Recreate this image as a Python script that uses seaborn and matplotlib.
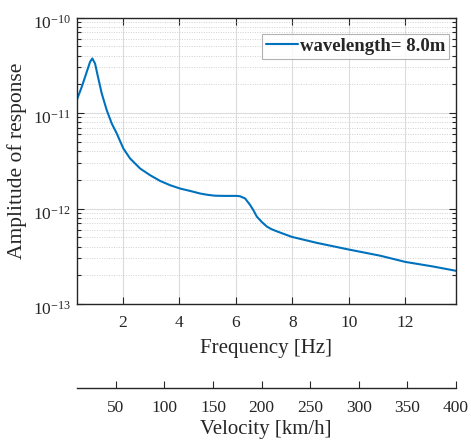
import numpy as np
import pandas as pd
import seaborn as sns
import matplotlib
matplotlib.use("Agg")
import matplotlib.pyplot as plt
import matplotlib.transforms as mtransforms
from matplotlib.ticker import LogLocator, NullFormatter, FixedLocator

# Data (frequency in Hz, log10 of amplitude)
freq = [0.358, 0.535, 0.713, 0.830, 0.911, 1.007, 1.124, 1.245, 1.422, 1.599,
        1.777, 2.011, 2.248, 2.603, 2.957, 3.312, 3.667, 4.021, 4.376, 4.730,
        5.0, 5.262, 5.60, 6.03, 6.149, 6.326, 6.50, 6.62, 6.74, 6.92, 7.10,
        7.25, 7.457, 7.98, 8.87, 9.99, 11.11, 12.0, 13.0, 13.81]
log_amp = [-10.866, -10.727, -10.570, -10.465, -10.429, -10.482, -10.639,
           -10.796, -10.971, -11.110, -11.215, -11.372, -11.476, -11.581,
           -11.651, -11.711, -11.756, -11.791, -11.816, -11.843, -11.857,
           -11.866, -11.868, -11.868, -11.872, -11.895, -11.962, -12.018,
           -12.085, -12.142, -12.190, -12.215, -12.240, -12.297, -12.360,
           -12.429, -12.494, -12.559, -12.608, -12.653]
amp = [10.0 ** v for v in log_amp]
legend_label = "wavelength= 8.0m"
freq_ticks = [2, 4, 6, 8, 10, 12]
amp_ticks = [1e-13, 1e-12, 1e-11, 1e-10]
vel_ticks = [50, 100, 150, 200, 250, 300, 350, 400]

df = pd.DataFrame({"Frequency": freq, "Amplitude": amp, "series": legend_label})

sns.set_style("ticks")
plt.rcParams["font.family"] = ["Liberation Serif", "DejaVu Serif"]
plt.rcParams["mathtext.fontset"] = "custom"
plt.rcParams["mathtext.rm"] = "Liberation Serif"
plt.rcParams["mathtext.it"] = "Liberation Serif:italic"
plt.rcParams["mathtext.bf"] = "Liberation Serif:bold"

fig = plt.figure(figsize=(4.71, 4.44), dpi=100)
L, R = 76.5 / 471, 456 / 471
B, T = 1 - 304 / 444, 1 - 17.5 / 444
ax = fig.add_axes([L, B, R - L, T - B])

sns.lineplot(data=df, x="Frequency", y="Amplitude", hue="series",
             palette=["#0072BD"], linewidth=1.5, ax=ax, legend=True)
ax.set_yscale("log")
ax.set_xlim(0.35, 13.8)
ax.set_ylim(1e-13, 1e-10)

ax.xaxis.set_major_locator(FixedLocator(freq_ticks))
ax.yaxis.set_major_locator(FixedLocator(amp_ticks))
ax.yaxis.set_minor_locator(LogLocator(base=10, subs=np.arange(2, 10), numticks=20))
ax.yaxis.set_minor_formatter(NullFormatter())

ax.grid(True, which="major", color="#dcdcdc", linewidth=0.8, linestyle="-")
ax.grid(True, which="minor", axis="y", color="#d0d0d0", linewidth=0.7, linestyle=(0, (1, 1.5)))
ax.set_axisbelow(True)

ax.tick_params(which="both", direction="in", top=True, right=True, colors="#262626",
               labelsize=12.5, labelcolor="#262626")
ax.tick_params(which="major", length=5, width=0.8)
ax.tick_params(which="minor", length=3, width=0.8)
ax.tick_params(axis="x", pad=8)
ax.tick_params(axis="y", pad=4)
for s in ax.spines.values():
    s.set_color("#262626")
    s.set_linewidth(1.0)

# shift y tick labels slightly down, like the reference
offset = mtransforms.ScaledTranslation(0, -4 / 100, fig.dpi_scale_trans)
for lab in ax.get_yticklabels():
    lab.set_transform(lab.get_transform() + offset)

ax.set_xlabel("Frequency [Hz]", fontsize=15, color="#262626", labelpad=6)
ax.set_ylabel("Amplitude of response", fontsize=15.5, color="#262626", labelpad=4)

leg = ax.legend(loc="upper right", bbox_to_anchor=(449 / 471, 1 - 34 / 444),
                bbox_transform=fig.transFigure, borderaxespad=0,
                frameon=True, fancybox=False, edgecolor="#a0a0a0",
                handlelength=1.7, handletextpad=0.1, borderpad=0.2,
                prop={"weight": "bold", "size": 13.5})
leg.get_frame().set_linewidth(0.8)
leg.set_title(None)

# Secondary velocity axis
vy = 1 - 388 / 444
vax = fig.add_axes([L, vy, R - L, 0.0001])
vax.set_xlim(9.5, 400)
vax.xaxis.set_major_locator(FixedLocator(vel_ticks))
vax.set_yticks([])
for k in ["top", "left", "right"]:
    vax.spines[k].set_visible(False)
vax.spines["bottom"].set_color("#262626")
vax.spines["bottom"].set_linewidth(1.0)
vax.patch.set_alpha(0)
vax.tick_params(axis="x", direction="in", length=5, width=0.8, colors="#262626",
                labelsize=12.5, pad=8.5)
vax.set_xlabel("Velocity [km/h]", fontsize=15, color="#262626", labelpad=3)

fig.savefig("out.png", dpi=100)
